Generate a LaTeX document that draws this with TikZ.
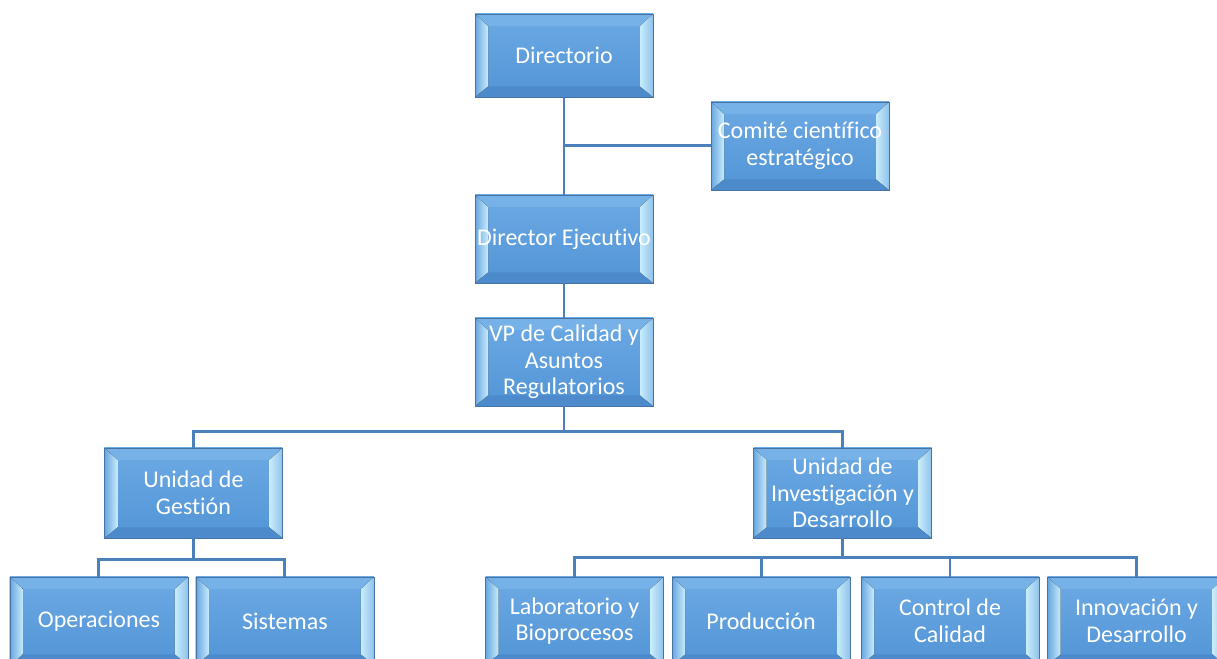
\documentclass[tikz,border=0pt]{standalone}
\usepackage{fontspec}
\usepackage{tikz}
\newfontfamily\carlito[Ligatures={NoCommon}]{Carlito}
\newcommand{\boxfont}{\carlito\fontsize{18pt}{19.9pt}\selectfont}
\definecolor{facetop}{RGB}{108,170,228}
\definecolor{facebot}{RGB}{82,148,214}
\definecolor{boxedge}{RGB}{70,114,164}
\definecolor{bevpale}{RGB}{200,236,251}
\definecolor{bevmid}{RGB}{104,166,224}
\definecolor{bevtop}{RGB}{118,178,232}
\definecolor{bevbot}{RGB}{76,138,204}
\definecolor{linkblue}{RGB}{76,128,186}
\tikzset{
  orgbox/.style={rectangle, draw=boxedge, line width=0.6pt,
    top color=facetop, bottom color=facebot,
    minimum width=133.5pt, minimum height=66pt, inner xsep=0pt,
    align=center, text=white, font=\boxfont,
    path picture={
      \fill[bevtop] (path picture bounding box.north west) -- (path picture bounding box.north east)
        -- ([shift={(-9.75pt,-9pt)}]path picture bounding box.north east)
        -- ([shift={(9.75pt,-9pt)}]path picture bounding box.north west) -- cycle;
      \fill[bevbot] (path picture bounding box.south west) -- (path picture bounding box.south east)
        -- ([shift={(-9.75pt,8pt)}]path picture bounding box.south east)
        -- ([shift={(9.75pt,8pt)}]path picture bounding box.south west) -- cycle;
      \fill[left color=bevmid, right color=bevpale] (path picture bounding box.north west)
        -- ([shift={(9.75pt,-9pt)}]path picture bounding box.north west)
        -- ([shift={(9.75pt,8pt)}]path picture bounding box.south west)
        -- (path picture bounding box.south west) -- cycle;
      \fill[left color=bevpale, right color=bevmid!60!bevpale] (path picture bounding box.north east)
        -- ([shift={(-9.75pt,-9pt)}]path picture bounding box.north east)
        -- ([shift={(-9.75pt,8pt)}]path picture bounding box.south east)
        -- (path picture bounding box.south east) -- cycle;
    }},
  link/.style={linkblue, line width=2.2pt}
}
\begin{document}
\begin{tikzpicture}[x=0.75pt, y=0.75pt]
  \useasboundingbox (0,0) rectangle (1217,-659);
  \clip (0,0) rectangle (1217,-659);
  \node(dir)[orgbox, minimum height=62.25pt] at (564,-55.5) {Directorio};
  \node(dej)[orgbox, below of=dir, node distance=137.6pt] {Director Ejecutivo};
  \node(com)[orgbox, right of=dej, node distance=177pt, yshift=69.75pt] {Comité científico\\estratégico};
  \node(vp)[orgbox, below of=dej, node distance=92.25pt] {VP de Calidad y\\Asuntos\\Regulatorios};
  \node(ug)[orgbox, minimum height=67.5pt, below of=vp, node distance=98.25pt, xshift=-277.9pt] {Unidad de\\Gestión};
  \node(ui)[orgbox, minimum height=67.5pt, below of=vp, node distance=98.25pt, xshift=208.9pt] {Unidad de\\Investigación y\\Desarrollo};
  \node(ope)[orgbox, below of=ug, node distance=96pt, xshift=-70.9pt] {Operaciones};
  \node(sis)[orgbox, below of=ug, node distance=96pt, xshift=68.6pt] {Sistemas};
  \node(lab)[orgbox, below of=ui, node distance=96pt, xshift=-201pt] {Laboratorio y\\Bioprocesos};
  \node(pro)[orgbox, below of=ui, node distance=96pt, xshift=-61.1pt] {Producción};
  \node(con)[orgbox, below of=ui, node distance=96pt, xshift=80.6pt] {Control de\\Calidad};
  \node(inn)[orgbox, below of=ui, node distance=96pt, xshift=220.5pt] {Innovación y\\Desarrollo};
  \draw[link] (dir.south) -- (dej.north);
  \draw[link] (com.west) -- (com.west -| dir.south);
  \draw[link] (dej.south) -- (vp.north);
  \draw[link] (vp.south) -- ++(0,-18.75pt) -| (ug.north);
  \draw[link] (vp.south) -- ++(0,-18.75pt) -| (ui.north);
  \draw[link] (ug.south) -- ++(0,-15.75pt) -| (ope.north);
  \draw[link] (ug.south) -- ++(0,-15.75pt) -| (sis.north);
  \draw[link] (ui.south) -- ++(0,-14.25pt) -| (lab.north);
  \draw[link] (ui.south) -- ++(0,-14.25pt) -| (pro.north);
  \draw[link] (ui.south) -- ++(0,-14.25pt) -| (con.north);
  \draw[link] (ui.south) -- ++(0,-14.25pt) -| (inn.north);
\end{tikzpicture}
\end{document}
